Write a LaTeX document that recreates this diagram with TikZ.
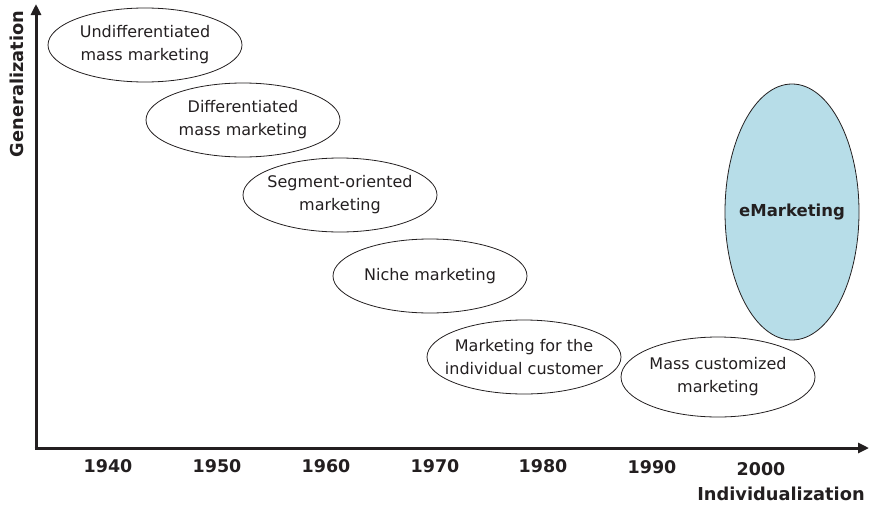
\documentclass[tikz,border=0pt]{standalone}
\usepackage{fontspec}
\setmainfont{DejaVu Sans}
\usetikzlibrary{shapes.geometric,arrows.meta}
\definecolor{emfill}{HTML}{B7DDE8}
\definecolor{ink}{HTML}{231F20}
\tikzset{
  era/.style={ellipse, draw=ink, line width=0.8pt, inner xsep=-40pt, inner ysep=-20pt, align=center,
    minimum width=194pt, minimum height=74pt, font=\fontsize{16}{23}\selectfont, text=ink},
  axis/.style={draw=ink, line width=3pt, -{Triangle[length=11pt,width=10pt]}},
  yearlbl/.style={font=\bfseries\fontsize{17.5}{21}\selectfont, text=ink, inner sep=0pt},
  axlbl/.style={font=\bfseries\fontsize{17.8}{21}\selectfont, text=ink, inner sep=0pt}
}
\begin{document}
\begin{tikzpicture}[x=1pt,y=-1pt]
\useasboundingbox (0,0) rectangle (869,506);
\coordinate (O) at (36,448);
\coordinate (ytop) at (36,4);
\coordinate (xend) at (869,448);
\draw[axis] (O) -- (ytop);
\draw[axis] ([xshift=-1.5pt]O) -- (xend);
\node[axlbl, rotate=90] (gen) at (17,84) {Generalization};
\node[axlbl] (ind) at (781,494) {Individualization};
\node[yearlbl] (y1940) at (108,466) {1940};
\node[yearlbl] (y1950) at (217,466) {1950};
\node[yearlbl] (y1960) at (326,466) {1960};
\node[yearlbl] (y1970) at (435,466) {1970};
\node[yearlbl] (y1980) at (543,466) {1980};
\node[yearlbl] (y1990) at (652,467) {1990};
\node[yearlbl] (y2000) at (761,469) {2000};
\node[era] (e1) at (145,45) {Undifferentiated\\mass marketing};
\node[era] (e2) at (243,120) {Differentiated\\mass marketing};
\node[era] (e3) at (340,195) {Segment-oriented\\marketing};
\node[era] (e4) at (430,276) {Niche marketing};
\node[era] (e5) at (524,357) {Marketing for the\\individual customer};
\node[era, minimum height=80pt] (e6) at (718,377) {Mass customized\\marketing};
\node[era, fill=emfill, minimum width=134pt, minimum height=256pt,
  font=\bfseries\fontsize{16.5}{20}\selectfont] (e7) at (792,212) {eMarketing};
\end{tikzpicture}
\end{document}
